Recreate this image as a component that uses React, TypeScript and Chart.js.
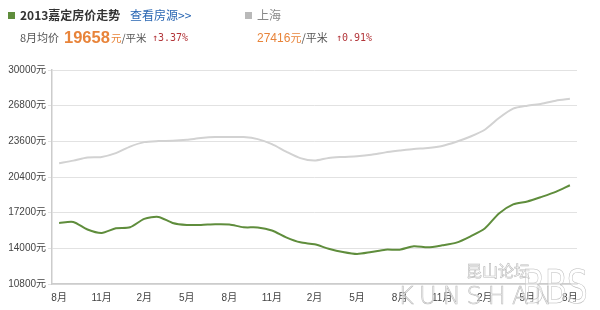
import React, { useEffect, useRef } from "react";
import { Chart, registerables } from "chart.js";

Chart.register(...registerables);

// Months from Aug 2011 to Aug 2014
const months = [
  "8月", "9月", "10月", "11月", "12月", "1月", "2月", "3月", "4月", "5月", "6月", "7月",
  "8月", "9月", "10月", "11月", "12月", "1月", "2月", "3月", "4月", "5月", "6月", "7月",
  "8月", "9月", "10月", "11月", "12月", "1月", "2月", "3月", "4月", "5月", "6月", "7月",
  "8月",
];

const jiadingPrices = [
  16280, 16370, 15690, 15380, 15800, 15890, 16640, 16820, 16280, 16100, 16100, 16160,
  16140, 15890, 15870, 15600, 14990, 14540, 14360, 13970, 13670, 13490, 13670, 13880,
  13880, 14180, 14090, 14270, 14510, 15080, 15780, 17130, 17940, 18210, 18620, 19070,
  19658,
];

const shanghaiPrices = [
  21635, 21870, 22140, 22200, 22540, 23130, 23530, 23620, 23650, 23740, 23890, 23980,
  23980, 23980, 23800, 23350, 22680, 22090, 21870, 22110, 22200, 22270, 22400, 22610,
  22770, 22920, 23010, 23190, 23560, 24030, 24640, 25690, 26530, 26800, 26980, 27250,
  27416,
];

const yTicks = [10800, 14000, 17200, 20400, 23600, 26800, 30000];

const seriesNames = ["2013嘉定房价走势", "上海"];

const FONT = '"Liberation Sans", Arial, "Noto Sans CJK SC", sans-serif';

export default function App() {
  const ref = useRef<HTMLCanvasElement | null>(null);

  useEffect(() => {
    if (!ref.current) return;
    const chart = new Chart(ref.current, {
      type: "line",
      data: {
        labels: months,
        datasets: [
          {
            label: seriesNames[1],
            data: shanghaiPrices,
            borderColor: "#d2d2d2",
            borderWidth: 2,
            pointRadius: 0,
            tension: 0.25,
            fill: false,
          },
          {
            label: seriesNames[0],
            data: jiadingPrices,
            borderColor: "#5f8d3c",
            borderWidth: 2,
            pointRadius: 0,
            tension: 0.25,
            fill: false,
          },
        ],
      },
      options: {
        animation: false,
        responsive: false,
        maintainAspectRatio: false,
        layout: { padding: { left: 0, top: 70, right: 23, bottom: 0 } },
        plugins: {
          legend: { display: false },
          tooltip: { enabled: false },
          title: { display: false },
        },
        scales: {
          x: {
            type: "category",
            offset: true,
            grid: { display: false },
            border: { display: true, color: "#cccccc", width: 1.5 },
            ticks: {
              autoSkip: false,
              maxRotation: 0,
              minRotation: 0,
              padding: 0,
              color: "#444",
              font: { family: FONT, size: 10 },
              callback: (_v: any, i: number) => (i % 3 === 0 ? months[i] : ""),
            },
            afterFit: (s: any) => {
              s.height = 26;
            },
          },
          y: {
            min: yTicks[0],
            max: yTicks[yTicks.length - 1],
            grid: {
              color: "#e2e2e2",
              lineWidth: 1,
              tickLength: 4,
              drawTicks: true,
            },
            border: { display: true, color: "#cccccc", width: 1.5 },
            ticks: {
              stepSize: yTicks[1] - yTicks[0],
              padding: 2,
              color: "#444",
              font: { family: FONT, size: 10 },
              callback: (v: any) => `${v}元`,
            },
            afterFit: (s: any) => {
              s.width = 52;
            },
          },
        },
      },
    });
    return () => chart.destroy();
  }, []);

  const base: React.CSSProperties = {
    position: "absolute",
    whiteSpace: "nowrap",
    fontFamily: '"Noto Sans CJK SC", "Liberation Sans", sans-serif',
    lineHeight: 1,
  };

  return (
    <div
      style={{
        position: "fixed",
        left: 0,
        top: 0,
        width: 600,
        height: 310,
        background: "#fff",
        overflow: "hidden",
      }}
    >
      <canvas ref={ref} width={600} height={310} style={{ position: "absolute", left: 0, top: 0, width: 600, height: 310 }} />
      {/* header line 1 */}
      <div style={{ ...base, left: 8, top: 12, width: 7, height: 7, background: "#5f8d3c" }} />
      <div style={{ ...base, left: 20, top: 9, fontSize: 12, fontWeight: "bold", color: "#333" }}>
        {seriesNames[0]}
      </div>
      <div style={{ ...base, left: 130, top: 9, fontSize: 12, color: "#2a67b3" }}>查看房源&gt;&gt;</div>
      <div style={{ ...base, left: 245, top: 12, width: 7, height: 7, background: "#b9b9b9" }} />
      <div style={{ ...base, left: 257, top: 9, fontSize: 12, color: "#888" }}>{seriesNames[1]}</div>
      {/* header line 2 */}
      <div style={{ ...base, left: 20, top: 32, fontSize: 11, color: "#555" }}>8月均价</div>
      <div style={{ ...base, left: 64, top: 29, fontSize: 16.5, fontWeight: "bold", color: "#e8843a", fontFamily: FONT }}>
        {jiadingPrices[jiadingPrices.length - 1]}
      </div>
      <div style={{ ...base, left: 111, top: 33, fontSize: 10.5, color: "#555" }}>
        <span style={{ color: "#e8843a" }}>元</span>/平米
      </div>
      <div style={{ ...base, left: 152, top: 33, fontSize: 10, color: "#b3363a", fontFamily: '"DejaVu Sans Mono", monospace' }}>
        ↑3.37%
      </div>
      <div style={{ ...base, left: 257, top: 32, fontSize: 11, color: "#555" }}>
        <span style={{ color: "#e8843a", fontFamily: FONT, fontSize: 12 }}>{shanghaiPrices[shanghaiPrices.length - 1]}</span>
        <span style={{ color: "#e8843a" }}>元</span>/平米
      </div>
      <div style={{ ...base, left: 336, top: 33, fontSize: 10, color: "#b3363a", fontFamily: '"DejaVu Sans Mono", monospace' }}>
        ↑0.91%
      </div>
      {/* watermark */}
      <div
        style={{
          ...base,
          left: 466,
          top: 262,
          fontSize: 16,
          color: "rgba(255,255,255,0.6)",
          WebkitTextStroke: "0.6px #bbb",
        }}
      >
        昆山论坛
      </div>
      <div
        style={{
          ...base,
          left: 398,
          top: 284,
          fontSize: 24,
          letterSpacing: 6,
          color: "rgba(255,255,255,0.6)",
          WebkitTextStroke: "0.6px #bbb",
          fontFamily: '"DejaVu Sans", sans-serif',
          fontWeight: 200,
        }}
      >
        KUNSHAN
      </div>
      <div
        style={{
          ...base,
          left: 522,
          top: 264,
          fontSize: 46,
          color: "rgba(255,255,255,0.4)",
          WebkitTextStroke: "0.6px #bbb",
          fontFamily: '"DejaVu Sans", sans-serif',
          transform: "scaleX(0.72)",
          transformOrigin: "left top",
        }}
      >
        BBS
      </div>
    </div>
  );
}
